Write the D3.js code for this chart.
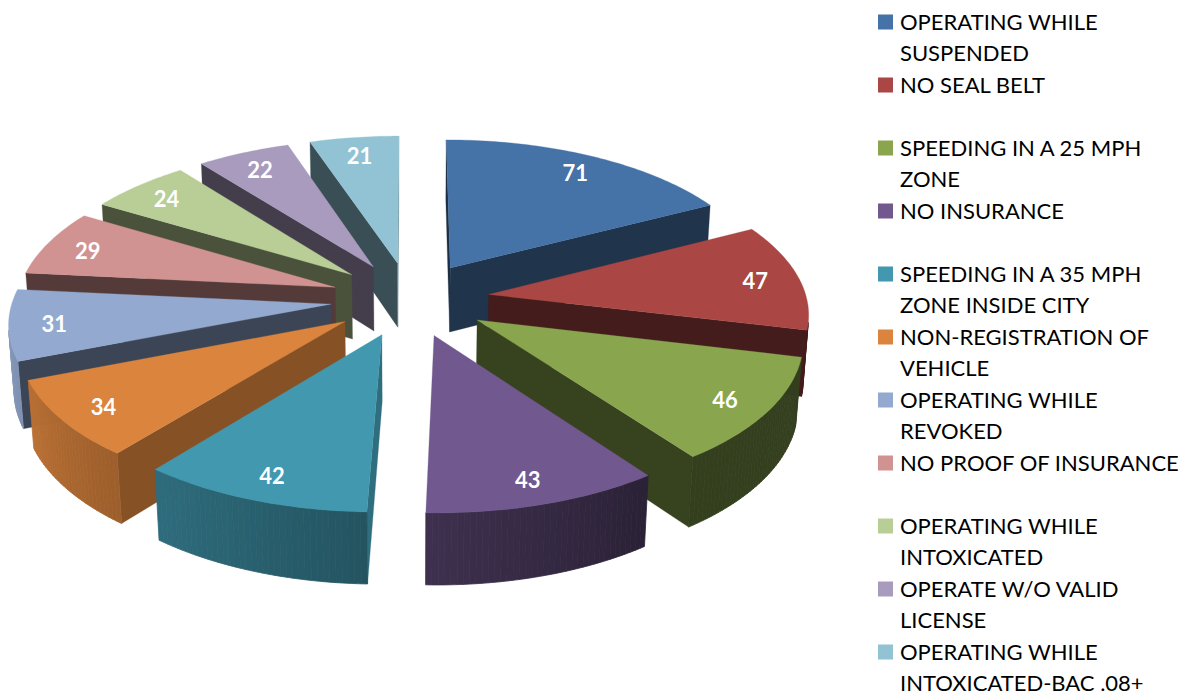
<!DOCTYPE html>
<html><head><meta charset="utf-8">
<script src="https://cdn.jsdelivr.net/npm/d3@7"></script>
<style>body{margin:0;background:#fff;} svg{display:block;}</style>
</head><body>
<svg id="chart" width="1196" height="696"></svg>
<script>
const categories = [
  "OPERATING WHILE SUSPENDED",
  "NO SEAL BELT",
  "SPEEDING IN A 25 MPH ZONE",
  "NO INSURANCE",
  "SPEEDING IN A 35 MPH ZONE INSIDE CITY",
  "NON-REGISTRATION OF VEHICLE",
  "OPERATING WHILE REVOKED",
  "NO PROOF OF INSURANCE",
  "OPERATING WHILE INTOXICATED",
  "OPERATE W/O VALID LICENSE",
  "OPERATING WHILE INTOXICATED-BAC .08+"
];
const values = [71, 47, 46, 43, 42, 34, 31, 29, 24, 22, 21];
const colors = ["#4572A7","#AA4643","#89A54E","#71588F","#4198AF","#DB843D","#93A9CF","#D19392","#B9CD96","#A99BBD","#92C3D4"];

const W = 1196, H = 696;
const svg = d3.select("#chart");
svg.append("rect").attr("width", W).attr("height", H).attr("fill", "#fff");

// 3D perspective view of the pie
const view = {cx: 410, cy: 299, F: 2522, D: 7.93, tilt: 27.9 * Math.PI / 180,
              depth: 0.235, explode: 0.25, labelR: 0.86};
const sT = Math.sin(view.tilt), cT = Math.cos(view.tilt);
const cam = [0, view.D * cT, view.D * sT];
function project(p) {
  const [u, v, h] = p;
  const z = view.D - (v * cT + h * sT);
  return [view.cx + view.F * u / z, view.cy + view.F * (v * sT - h * cT) / z];
}
function facing(n, p) {
  return n[0] * (cam[0] - p[0]) + n[1] * (cam[1] - p[1]) + n[2] * (cam[2] - p[2]) > 0;
}
function shade(c, f) {
  const r = d3.rgb(c);
  return d3.rgb(r.r * f, r.g * f, r.b * f).formatHex();
}
const line = d3.line();
const arcs = d3.pie().sort(null).value(d => d).startAngle(0).endAngle(2 * Math.PI)(values);

const slices = arcs.map((a, i) => {
  const m = (a.startAngle + a.endAngle) / 2;
  const ox = view.explode * Math.sin(m), oy = -view.explode * Math.cos(m);
  return {i, a0: a.startAngle, a1: a.endAngle, m, ox, oy, value: a.value};
});
// back to front
slices.sort((p, q) => (p.oy - Math.cos(p.m) * 0.5) - (q.oy - Math.cos(q.m) * 0.5));

const gPie = svg.append("g");
const t = view.depth;
slices.forEach(s => {
  const g = gPie.append("g");
  const base = colors[s.i];
  const rim = (a, h) => [s.ox + Math.sin(a), s.oy - Math.cos(a), h];
  const apex = h => [s.ox, s.oy, h];
  const faces = [];
  // radial walls
  [[s.a0, -1], [s.a1, 1]].forEach(([a, sg]) => {
    const n = [sg * Math.cos(a), sg * Math.sin(a), 0];
    const pts = [apex(0), rim(a, 0), rim(a, -t), apex(-t)];
    const pm = [(s.ox + rim(a, 0)[0]) / 2, (s.oy + rim(a, 0)[1]) / 2, -t / 2];
    if (facing(n, pm)) {
      const f = 0.4 + 0.5 * Math.max(0, n[0] - 0.35);
      faces.push({pts, fill: shade(base, f)});
    }
  });
  // outer curved side
  const nSeg = Math.max(3, Math.ceil((s.a1 - s.a0) / (2 * Math.PI) * 360));
  for (let k = 0; k < nSeg; k++) {
    const b0 = s.a0 + (s.a1 - s.a0) * k / nSeg;
    const b1 = s.a0 + (s.a1 - s.a0) * (k + 1) / nSeg;
    const bm = (b0 + b1) / 2;
    const n = [Math.sin(bm), -Math.cos(bm), 0];
    if (facing(n, rim(bm, -t / 2))) {
      const deg = bm * 180 / Math.PI;
      const f = Math.max(0.38, Math.min(0.9, 0.38 + (deg - 144) * 0.0045));
      faces.push({pts: [rim(b0, 0), rim(b1, 0), rim(b1, -t), rim(b0, -t)], fill: shade(base, f), seg: true});
    }
  }
  faces.forEach(fc => {
    g.append("path").attr("d", line(fc.pts.map(project)) + "Z")
      .attr("fill", fc.fill).attr("stroke", fc.fill).attr("stroke-width", fc.seg ? 0.8 : 0.3)
      .attr("stroke-linejoin", "round");
  });
  // top face
  const topPts = [apex(0)];
  const nTop = Math.max(6, Math.ceil((s.a1 - s.a0) / (2 * Math.PI) * 360));
  for (let k = 0; k <= nTop; k++) topPts.push(rim(s.a0 + (s.a1 - s.a0) * k / nTop, 0));
  g.append("path").attr("d", line(topPts.map(project)) + "Z")
    .attr("fill", base).attr("stroke", base).attr("stroke-width", 0.3);
});

// data labels
const gLab = svg.append("g");
slices.forEach(s => {
  const rr = view.explode + view.labelR;
  const p = project([rr * Math.sin(s.m), -rr * Math.cos(s.m), 0]);
  gLab.append("text").attr("x", p[0]).attr("y", p[1] + 2).attr("dy", "0.36em")
    .attr("text-anchor", "middle")
    .attr("font-family", "Lato, 'Open Sans', sans-serif").attr("font-weight", "bold")
    .attr("font-size", 22).attr("fill", "#fff").text(s.value);
});

// legend
const legend = svg.append("g").attr("transform", "translate(878,0)");
const lineH = 31.5, entryH = 63, firstY = 22, maxW = 295;
categories.forEach((c, i) => {
  const y = firstY + i * entryH;
  legend.append("rect").attr("x", 0).attr("y", y - 7.5).attr("width", 15).attr("height", 15)
    .attr("fill", colors[i]);
  const txt = legend.append("text")
    .attr("font-family", "Lato, 'Open Sans', sans-serif").attr("font-size", 22).attr("fill", "#000");
  const words = c.split(" ");
  let lineIdx = 0, cur = [];
  let ts = txt.append("tspan").attr("x", 22).attr("y", y).attr("dy", "0.36em");
  words.forEach(w => {
    cur.push(w);
    ts.text(cur.join(" "));
    if (ts.node().getComputedTextLength() > maxW && cur.length > 1) {
      cur.pop();
      ts.text(cur.join(" "));
      cur = [w];
      lineIdx++;
      ts = txt.append("tspan").attr("x", 22).attr("y", y + lineIdx * lineH).attr("dy", "0.36em").text(w);
    }
  });
});
</script>
</body></html>
